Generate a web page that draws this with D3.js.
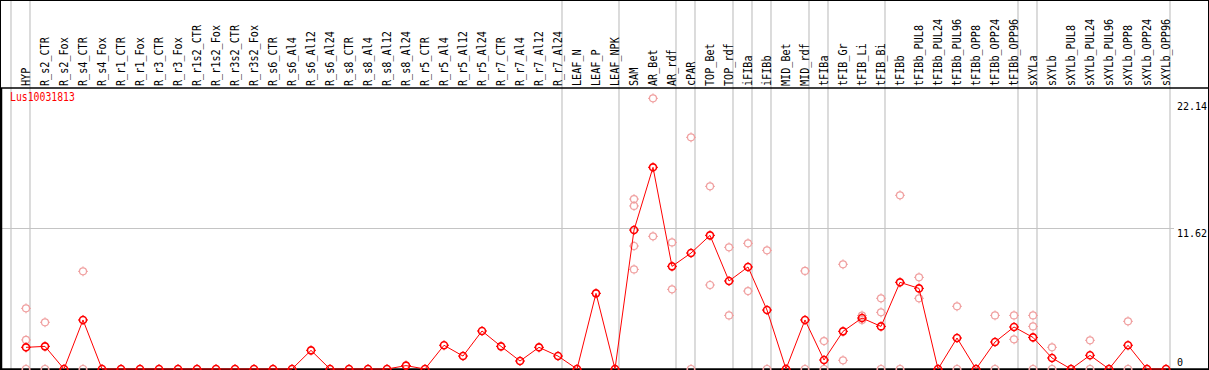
<!DOCTYPE html>
<html>
<head>
<meta charset="utf-8">
<script src="https://cdn.jsdelivr.net/npm/d3@7"></script>
<style>
  body { margin: 0; background: #fff; }
  svg { display: block; }
  text { font-family: "DejaVu Sans Mono", monospace; font-size: 12px; }
</style>
</head>
<body>
<div id="result"></div>
<script>
const geneName = "Lus10031813";

const categories = ["HYP","R_s2_CTR","R_s2_Fox","R_s4_CTR","R_s4_Fox","R_r1_CTR","R_r1_Fox","R_r3_CTR","R_r3_Fox",
  "R_r1s2_CTR","R_r1s2_Fox","R_r3s2_CTR","R_r3s2_Fox","R_s6_CTR","R_s6_Al4","R_s6_Al12","R_s6_Al24",
  "R_s8_CTR","R_s8_Al4","R_s8_Al12","R_s8_Al24","R_r5_CTR","R_r5_Al4","R_r5_Al12","R_r5_Al24",
  "R_r7_CTR","R_r7_Al4","R_r7_Al12","R_r7_Al24","LEAF_N","LEAF_P","LEAF_NPK","SAM","AR_Bet","AR_rdf",
  "cPAR","TOP_Bet","TOP_rdf","iFIBa","iFIBb","MID_Bet","MID_rdf","tFIBa","tFIB_Gr","tFIB_Li","tFIB_Bi",
  "tFIBb","tFIBb_PUL8","tFIBb_PUL24","tFIBb_PUL96","tFIBb_OPP8","tFIBb_OPP24","tFIBb_OPP96",
  "sXYLa","sXYLb","sXYLb_PUL8","sXYLb_PUL24","sXYLb_PUL96","sXYLb_OPP8","sXYLb_OPP24","sXYLb_OPP96"];

// mean expression per sample (red line)
const meanValues = [1.79,1.87,0,4.05,0,0,0,0,0,
  0,0,0,0,0,0,1.54,0,
  0,0,0,0.28,0,1.96,1.07,3.14,
  1.87,0.66,1.79,1.07,0,6.25,0,11.48,16.66,8.48,
  9.58,11.04,7.27,8.43,4.87,0,4.05,0.74,3.11,4.21,3.52,
  7.16,6.66,0,2.56,0,2.23,3.47,
  2.61,0.91,0,1.13,0,1.96,0,0];

// single replicates (pale circles)
const replicates = {
  "HYP": [5.01, 2.40, 0],
  "R_s2_CTR": [3.86, 0],
  "R_s4_CTR": [8.07, 0],
  "SAM": [14.04, 13.47, 10.16, 8.23],
  "AR_Bet": [22.36, 10.96],
  "AR_rdf": [10.46, 6.58],
  "cPAR": [19.14, 0],
  "TOP_Bet": [15.09, 6.94],
  "TOP_rdf": [10.05, 4.43],
  "iFIBa": [10.38, 6.44],
  "iFIBb": [9.80, 0],
  "MID_rdf": [8.10, 0],
  "tFIBa": [2.31, 0],
  "tFIB_Gr": [8.65, 0.72],
  "tFIB_Li": [4.41, 4.05],
  "tFIB_Bi": [5.84, 4.68, 0],
  "tFIBb": [14.35, 0],
  "tFIBb_PUL8": [7.57, 5.84],
  "tFIBb_PUL96": [5.18, 0],
  "tFIBb_OPP24": [4.43, 0],
  "tFIBb_OPP96": [4.43, 2.45],
  "sXYLa": [4.43, 3.52, 0],
  "sXYLb": [1.79, 0],
  "sXYLb_PUL24": [2.37, 0],
  "sXYLb_OPP8": [3.94, 0]
};

// number of samples in each tissue group (grey separators)
const groupSizes = [1, 28, 3, 3, 1, 2, 1, 1, 2, 1, 3, 7, 1, 7];

const yTicks = [0, 11.62, 22.14];

const W = 1209, H = 370;
const headerBottom = 88;

let svg = d3.select("#result").append("svg").attr("width", W).attr("height", H);

const x = d3.scalePoint().domain(categories).range([26, 1166]);
const y = d3.scaleLinear().domain([0, 22.14]).range([369, 101]);

// group separators
let bounds = [x(categories[0]) - 15];
let acc = 0;
groupSizes.forEach(n => { acc += n; bounds.push(x(categories[acc - 1]) + 4); });
svg.selectAll(".sep").data(bounds).enter().append("line")
    .attr("x1", d => d).attr("x2", d => d)
    .attr("y1", 0).attr("y2", H)
    .attr("stroke", "#c4c4c4").attr("stroke-width", 1.2);

// middle grid line
svg.append("line")
    .attr("x1", 0).attr("x2", 1174)
    .attr("y1", Math.round(y(yTicks[1])) + 0.5).attr("y2", Math.round(y(yTicks[1])) + 0.5)
    .attr("stroke", "#c4c4c4").attr("stroke-width", 1.2);

// frame
svg.append("rect").attr("x", 0.5).attr("y", 0.5).attr("width", W - 1).attr("height", H - 1)
    .attr("fill", "none").attr("stroke", "#000");
svg.append("line").attr("x1", 0).attr("x2", W).attr("y1", headerBottom).attr("y2", headerBottom)
    .attr("stroke", "#000").attr("stroke-width", 1.5);
svg.append("line").attr("x1", 1.5).attr("x2", 1.5).attr("y1", headerBottom).attr("y2", H)
    .attr("stroke", "#000").attr("stroke-width", 1.5);
svg.append("line").attr("x1", 0).attr("x2", W).attr("y1", 369).attr("y2", 369)
    .attr("stroke", "#000").attr("stroke-width", 1.5);

// sample labels
svg.selectAll(".lab").data(categories).enter().append("text")
    .attr("transform", d => "translate(" + (x(d) + 4) + "," + (headerBottom - 2) + ") rotate(-90)")
    .attr("textLength", d => d.length * 6.1)
    .attr("lengthAdjust", "spacingAndGlyphs")
    .attr("fill", "#000")
    .text(d => d);

// y tick labels
svg.selectAll(".tick").data(yTicks).enter().append("text")
    .attr("x", 1177)
    .attr("y", d => d === 0 ? y(d) - 3 : y(d) + 9)
    .style("font-size", "10px")
    .text(d => String(d));

svg.append("text").attr("x", 10).attr("y", 101)
    .attr("fill", "#ff0000")
    .attr("textLength", geneName.length * 5.9)
    .attr("lengthAdjust", "spacingAndGlyphs")
    .text(geneName);

function marker(g, cx, cy, color, sw) {
    const r = 3.5;
    g.append("circle").attr("cx", cx).attr("cy", cy).attr("r", r)
        .attr("fill", "none").attr("stroke", color).attr("stroke-width", sw);
    [[0, -1], [0, 1], [-1, 0], [1, 0]].forEach(([dx, dy]) => {
        g.append("line")
            .attr("x1", cx + dx * r).attr("y1", cy + dy * r)
            .attr("x2", cx + dx * (r + 1.5)).attr("y2", cy + dy * (r + 1.5))
            .attr("stroke", color).attr("stroke-width", 1);
    });
}

// replicate points
let repG = svg.append("g");
categories.forEach(c => {
    (replicates[c] || []).forEach(v => marker(repG, x(c), y(v), "#f0a0a0", 1.2));
});

// mean line
const line = d3.line().x((d, i) => x(categories[i])).y(d => y(d));
svg.append("path").datum(meanValues)
    .attr("d", line)
    .attr("fill", "none").attr("stroke", "#ff0000").attr("stroke-width", 1);

let meanG = svg.append("g");
meanValues.forEach((v, i) => marker(meanG, x(categories[i]), y(v), "#ff0000", 1.6));
</script>
</body>
</html>
